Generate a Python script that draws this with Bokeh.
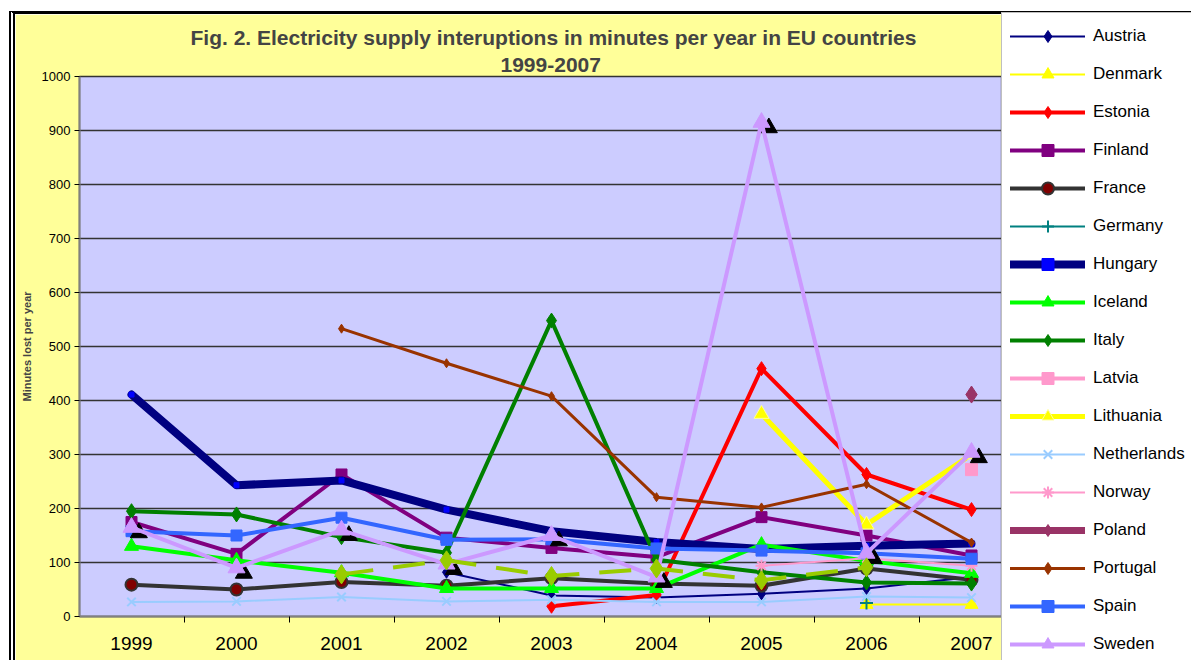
from bokeh.plotting import figure
from bokeh.models import (ColumnDataSource, FixedTicker, Legend, LegendItem, Title)
from bokeh.transform import dodge
from bokeh.embed import file_html
from bokeh.resources import INLINE

nan = float("nan")

# ---------------- data ----------------
years = [1999, 2000, 2001, 2002, 2003, 2004, 2005, 2006, 2007]
austria     = [nan, nan, nan, 82, 39, 35, 42, 52, 73]
denmark     = [nan, nan, nan, nan, nan, nan, nan, 22, 22]
estonia     = [nan, nan, nan, nan, 19, 40, 459, 263, 198]
finland     = [175, 116, 263, 146, 127, 110, 184, 150, 113]
france      = [59, 50, 64, 57, 71, 61, 57, 89, 68]
germany     = [nan, nan, nan, nan, nan, nan, nan, 25, nan]
hungary     = [411, 243, 252, 198, 158, 138, 125, 131, 135]
iceland     = [130, 104, 81, 52, 52, 52, 133, 103, 80]
italy       = [195, 189, 147, 118, 548, 105, 82, 63, 61]
latvia      = [nan, nan, nan, nan, nan, nan, nan, nan, 272]
lithuania   = [nan, nan, nan, nan, nan, nan, 375, 170, 300]
netherlands = [27, 28, 36, 28, 31, 27, 27, 37, 35]
norway      = [nan, nan, nan, nan, nan, nan, 94, 108, 94]
poland      = [nan, nan, nan, nan, nan, nan, nan, nan, 411]
portugal    = [nan, nan, 533, 469, 408, 221, 202, 245, 137]
spain       = [158, 150, 183, 142, 143, 126, 122, 117, 107]
sweden      = [165, 90, 160, 97, 150, 73, 915, 117, 304]
uk          = [nan, nan, 78, 104, 75, 89, 67, 91, nan]

y_ticks = [0, 100, 200, 300, 400, 500, 600, 700, 800, 900, 1000]
title_line1 = "Fig. 2.  Electricity supply interuptions in minutes per year in EU countries"
title_line2 = "1999-2007"
y_label = "Minutes lost per year"

FONT = "Liberation Sans"

# (name, values, line colour, line width, marker, marker fill, marker line, marker size, dash)
series = [
    ("Austria", austria, "#000080", 2, "diamond", "#000080", "#000080", 12, "solid"),
    ("Denmark", denmark, "#FFFF00", 2, "triangle", "#FFFF00", "#FFFF00", 13, "solid"),
    ("Estonia", estonia, "#FF0000", 4, "diamond", "#FF0000", "#FF0000", 14, "solid"),
    ("Finland", finland, "#800080", 4, "square", "#800080", "#800080", 11, "solid"),
    ("France", france, "#333333", 4, "circle", "#800000", "#333333", 12, "solid"),
    ("Germany", germany, "#008080", 2, "cross", "#008080", "#008080", 13, "solid"),
    ("Hungary", hungary, "#000080", 8, "square", "#0000FF", "#0000FF", 5, "solid"),
    ("Iceland", iceland, "#00FF00", 4, "triangle", "#00FF00", "#00FF00", 14, "solid"),
    ("Italy", italy, "#008000", 4, "diamond", "#008000", "#008000", 15, "solid"),
    ("Latvia", latvia, "#FF99CC", 4, "square", "#FF99CC", "#FF99CC", 12, "solid"),
    ("Lithuania", lithuania, "#FFFF00", 5, "triangle", "#FFFF00", "#FFFF99", 15, "solid"),
    ("Netherlands", netherlands, "#99CCFF", 2, "x", "#99CCFF", "#99CCFF", 12, "solid"),
    ("Norway", norway, "#FF99CC", 2, "asterisk", "#FF99CC", "#FF99CC", 12, "solid"),
    ("Poland", poland, "#993366", 7, "diamond", "#993366", "#993366", 17, "solid"),
    ("Portugal", portugal, "#993300", 3, "diamond", "#993300", "#993300", 9, "solid"),
    ("Spain", spain, "#3366FF", 4, "square", "#3366FF", "#3366FF", 11, "solid"),
    ("Sweden", sweden, "#CC99FF", 4, "triangle", "#CC99FF", "#CC99FF", 17, "solid"),
]
uk_style = ("United Kingdom", uk, "#99CC00", 4, "diamond", "#99CC00", "#99CC00", 19, "32 20")

# ---------------- layout ----------------
# canvas starts at page (15, 14) because of the outer black frame drawn with CSS
OX, OY = 15, 14
LEFT, TOP, BOTTOM = 79 - OX, 76 - OY, 44
FRAME_W, FRAME_H = 922, 540
CAT_W = 105.0
PAD, ENTRY, SPACING, GLYPH_W = 8, 30, 8, 75
x_start = years[0] - (131 - 79) / CAT_W
x_end = x_start + FRAME_W / CAT_W

p = figure(
    frame_width=FRAME_W, frame_height=FRAME_H,
    x_range=(x_start, x_end), y_range=(0, 1000),
    output_backend="svg", toolbar_location=None,
    min_border_left=LEFT, min_border_right=0, min_border_top=TOP, min_border_bottom=BOTTOM,
    background_fill_color="#CCCCFF", border_fill_color="#FFFF99",
    outline_line_color="#333333", outline_line_width=1.3,
)
p.styles = {
    "margin-top": "11px", "margin-left": "9px",
    "border-top": "3px solid black", "border-left": "6px double black",
}

# titles (first added is closest to the plot)
p.add_layout(Title(text=title_line2, align="left", offset=421, text_font=FONT,
                   text_font_size="21px", text_font_style="bold", standoff=9), "above")
p.add_layout(Title(text=title_line1, align="left", offset=111, text_font=FONT,
                   text_font_size="21px", text_font_style="bold", standoff=5), "above")

# axes
p.xaxis.ticker = FixedTicker(ticks=years, minor_ticks=[y - 0.5 for y in years] + [years[-1] + 0.5])
p.xaxis.major_tick_line_color = None
p.xaxis.major_tick_out = 0
p.xaxis.major_tick_in = 0
p.xaxis.minor_tick_in = 0
p.xaxis.minor_tick_out = 6
p.xaxis.minor_tick_line_color = "black"
p.xaxis.axis_line_color = "#808080"
p.xaxis.axis_line_width = 2
p.xaxis.major_label_text_font = FONT
p.xaxis.major_label_text_font_size = "19px"
p.xaxis.major_label_text_color = "black"
p.xaxis.major_label_standoff = 14

p.yaxis.ticker = FixedTicker(ticks=y_ticks)
p.yaxis.minor_tick_line_color = None
p.yaxis.major_tick_in = 0
p.yaxis.major_tick_out = 5
p.yaxis.major_tick_line_color = "black"
p.yaxis.axis_line_color = "#808080"
p.yaxis.axis_line_width = 2
p.yaxis.major_label_text_font = FONT
p.yaxis.major_label_text_font_size = "13px"
p.yaxis.major_label_text_color = "black"
p.yaxis.major_label_standoff = 4
p.yaxis.axis_label = y_label
p.yaxis.axis_label_text_font = FONT
p.yaxis.axis_label_text_font_size = "11px"
p.yaxis.axis_label_text_font_style = "bold"
p.yaxis.axis_label_standoff = 6

p.xgrid.grid_line_color = None
p.ygrid.grid_line_color = "#333333"
p.ygrid.grid_line_width = 1.3

legend_items = []

def draw(spec, in_legend=True):
    name, vals, lc, lw, marker, mfill, mline, msize, dash = spec
    src = ColumnDataSource(dict(x=years, y=vals))
    r_line = p.line("x", "y", source=src, line_color=lc, line_width=lw,
                    line_join="round", line_cap="round" if dash == "solid" else "butt",
                    line_dash=dash)
    r_mark = p.scatter("x", "y", source=src, marker=marker, size=msize,
                       fill_color=mfill, line_color=mline,
                       line_width=2 if marker in ("cross", "x", "asterisk") or name == "France" else 1)
    if in_legend:
        legend_items.append(LegendItem(label=name, renderers=[r_line, r_mark]))
    return src

for spec in series:
    if spec[0] == "Sweden":
        # marker shadow drawn under the Sweden markers
        shadow_src = ColumnDataSource(dict(x=years, y=sweden))
        p.scatter(dodge("x", 0.07), dodge("y", -10), source=shadow_src, marker="triangle",
                  size=17, fill_color="black", line_color="black")
    draw(spec)
draw(uk_style, in_legend=False)

# legend panel on the right; its top edge at the top of the canvas
n = len(legend_items)
H_LEG = 2 * PAD + n * ENTRY + (n - 1) * SPACING
legend = Legend(
    items=legend_items, location=(0, TOP + FRAME_H - H_LEG),
    padding=PAD, spacing=SPACING, margin=0,
    glyph_width=GLYPH_W, glyph_height=ENTRY, label_height=ENTRY, label_standoff=8,
    label_text_font=FONT, label_text_font_size="17px", label_text_color="black",
    background_fill_color="white", background_fill_alpha=1.0,
    border_line_color="#808080", border_line_width=1,
)
p.add_layout(legend, "right")

open("out.html", "w").write(file_html(p, INLINE))
